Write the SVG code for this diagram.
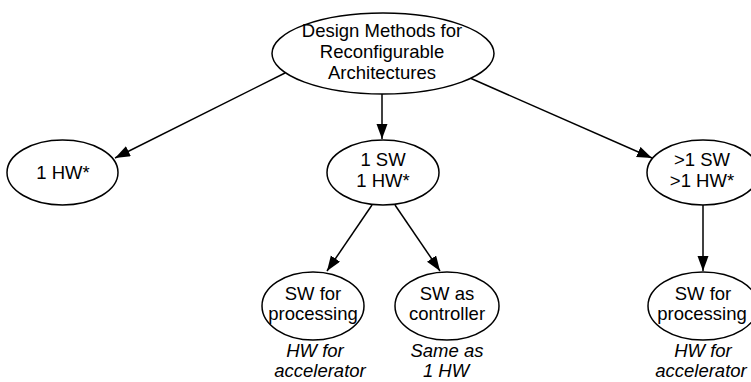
<svg xmlns="http://www.w3.org/2000/svg" width="751" height="382" viewBox="0 0 751 382">
<defs>
<marker id="arrow" markerUnits="userSpaceOnUse" markerWidth="16" markerHeight="12" refX="15" refY="5.5" orient="auto">
<path d="M0,0 L15,5.5 L0,11 Z" fill="#000"/>
</marker>
<style>
.node ellipse{fill:#fff;stroke:#000;stroke-width:1.5}
text{font-family:"Liberation Sans",Arial,sans-serif;font-size:18.5px;fill:#000;text-anchor:middle}
.it{font-style:italic}
#connectors line{stroke:#000;stroke-width:1.5;marker-end:url(#arrow)}
</style>
</defs>
<rect width="751" height="382" fill="#fff"/>
<g id="connectors">
<line x1="285" y1="73" x2="115" y2="158"/>
<line x1="382" y1="94" x2="382" y2="139"/>
<line x1="470" y1="78" x2="652" y2="158"/>
<line x1="372" y1="205" x2="327" y2="271"/>
<line x1="395" y1="205" x2="440" y2="271"/>
<line x1="703" y1="205" x2="703" y2="271"/>
</g>
<g id="root" class="node">
<ellipse cx="383" cy="53.5" rx="111" ry="40.5"/>
<text x="382" y="37">Design Methods for</text>
<text x="382" y="58">Reconfigurable</text>
<text x="382" y="79">Architectures</text>
</g>
<g id="hw1" class="node">
<ellipse cx="62.5" cy="172.5" rx="55.5" ry="32.5"/>
<text x="63" y="179">1 HW*</text>
</g>
<g id="sw1hw1" class="node">
<ellipse cx="383" cy="172.5" rx="56" ry="32.5"/>
<text x="383" y="166">1 SW</text>
<text x="383" y="187">1 HW*</text>
</g>
<g id="swnhwn" class="node">
<ellipse cx="703" cy="172.5" rx="56" ry="32.5"/>
<text x="702" y="166">&gt;1 SW</text>
<text x="702" y="187">&gt;1 HW*</text>
</g>
<g id="swproc1" class="node">
<ellipse cx="313" cy="306" rx="51" ry="34"/>
<text x="313" y="300">SW for</text>
<text x="313" y="320">processing</text>
<text class="it" x="315" y="357">HW for</text>
<text class="it" x="320" y="377">accelerator</text>
</g>
<g id="swctrl" class="node">
<ellipse cx="447" cy="306" rx="52" ry="34"/>
<text x="447" y="300">SW as</text>
<text x="447" y="320">controller</text>
<text class="it" x="447" y="357">Same as</text>
<text class="it" x="446" y="377">1 HW</text>
</g>
<g id="swproc2" class="node">
<ellipse cx="703" cy="306" rx="55" ry="34"/>
<text x="703" y="300">SW for</text>
<text x="702" y="320">processing</text>
<text class="it" x="703" y="357">HW for</text>
<text class="it" x="701" y="377">accelerator</text>
</g>
</svg>
